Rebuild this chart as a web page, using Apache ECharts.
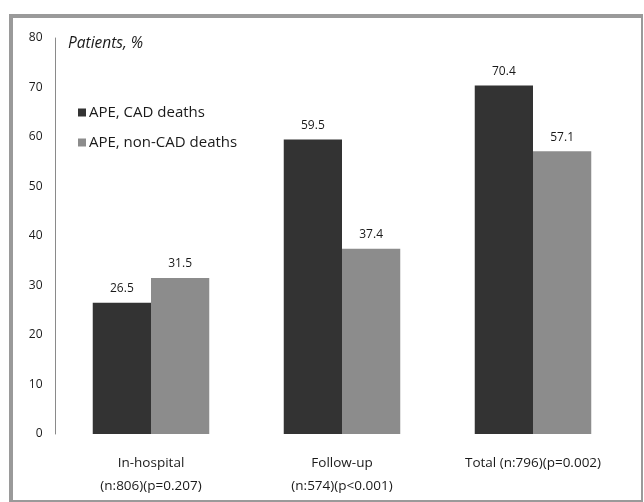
<!DOCTYPE html>
<html>
<head>
<meta charset="utf-8">
<script src="https://cdn.jsdelivr.net/npm/echarts@6/dist/echarts.min.js"></script>
<style>
  html, body { margin: 0; padding: 0; background: #fff; }
  #chart { width: 644px; height: 502px; }
</style>
</head>
<body>
<div id="chart"></div>
<script>
// Mortality shares by period, APE patients with CAD vs non-CAD deaths
const categories = [
  'In-hospital\n(n:806)(p=0.207)',
  'Follow-up\n(n:574)(p<0.001)',
  'Total (n:796)(p=0.002)'
];
const cadDeaths = [26.5, 59.5, 70.4];
const nonCadDeaths = [31.5, 37.4, 57.1];
const seriesNames = ['APE, CAD deaths', 'APE, non-CAD deaths'];
const yTicks = [0, 10, 20, 30, 40, 50, 60, 70, 80];

const FONT = '"Open Sans", "Liberation Sans", sans-serif';
const chart = echarts.init(document.getElementById('chart'), null, { renderer: 'canvas' });

const valueLabel = {
  show: true,
  position: 'top',
  distance: 8,
  color: '#1a1a1a',
  fontFamily: FONT,
  fontSize: 12,
  fontWeight: 500,
  formatter: p => p.value.toFixed(1)
};

chart.setOption({
  animation: false,
  backgroundColor: '#fff',
  graphic: [
    // frame around the plot
    { type: 'rect', shape: { x: 9, y: 14, width: 634, height: 4 }, style: { fill: '#9a9a9a' } },
    { type: 'rect', shape: { x: 9, y: 14, width: 4, height: 488 }, style: { fill: '#9a9a9a' } },
    { type: 'rect', shape: { x: 641, y: 14, width: 2, height: 488 }, style: { fill: '#9a9a9a' } },
    { type: 'rect', shape: { x: 9, y: 500, width: 634, height: 2 }, style: { fill: '#9a9a9a' } },
    {
      type: 'text', left: 68, top: 36,
      style: { text: 'Patients, %', font: 'italic 15.5px ' + FONT, fill: '#1a1a1a' }
    }
  ],
  legend: {
    orient: 'vertical',
    left: 73,
    top: 100,
    itemWidth: 8,
    itemHeight: 8,
    itemGap: 15,
    icon: 'rect',
    data: seriesNames,
    textStyle: { fontFamily: FONT, fontSize: 15, color: '#1a1a1a', padding: [0, 0, 0, -2] }
  },
  grid: { left: 55.5, right: 15.5, top: 38, bottom: 68, containLabel: false },
  xAxis: {
    type: 'category',
    data: categories,
    axisLine: { show: false },
    axisTick: { show: false },
    axisLabel: {
      color: '#1a1a1a',
      fontFamily: FONT,
      fontSize: 13.5,
      lineHeight: 23,
      margin: 18,
      verticalAlign: 'top'
    }
  },
  yAxis: {
    type: 'value',
    min: yTicks[0],
    max: yTicks[yTicks.length - 1],
    interval: 10,
    splitLine: { show: false },
    axisTick: { show: false },
    axisLine: { show: true, lineStyle: { color: '#8a8a8a', width: 1 } },
    axisLabel: {
      color: '#1a1a1a',
      fontFamily: FONT,
      fontSize: 12,
      fontWeight: 500,
      margin: 13,
      customValues: yTicks
    }
  },
  series: [
    {
      name: seriesNames[0],
      type: 'bar',
      data: cadDeaths,
      barGap: '0%',
      barCategoryGap: '39%',
      itemStyle: { color: '#333333' },
      label: valueLabel
    },
    {
      name: seriesNames[1],
      type: 'bar',
      data: nonCadDeaths,
      itemStyle: { color: '#8c8c8c' },
      label: valueLabel
    }
  ]
});
</script>
</body>
</html>
